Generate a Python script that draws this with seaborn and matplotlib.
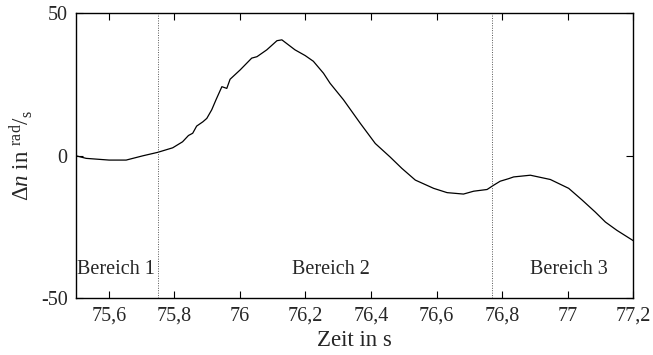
import matplotlib
matplotlib.use("Agg")
import matplotlib.pyplot as plt
import matplotlib.ticker as mticker
import seaborn as sns
import pandas as pd

# data
zeit = [75.500, 75.531, 75.601, 75.653, 75.704, 75.749, 75.795, 75.825, 75.843,
        75.856, 75.868, 75.887, 75.899, 75.914, 75.927, 75.945, 75.960, 75.970,
        76.001, 76.036, 76.052, 76.082, 76.113, 76.128, 76.168, 76.199, 76.224,
        76.255, 76.275, 76.316, 76.367, 76.413, 76.458, 76.494, 76.535, 76.591,
        76.632, 76.682, 76.713, 76.754, 76.774, 76.794, 76.820, 76.835, 76.886,
        76.947, 77.003, 77.044, 77.084, 77.115, 77.150, 77.201]
delta_n = [-0.1, -1.0, -1.6, -1.6, -0.1, 1.1, 2.7, 4.8, 7.0,
           7.8, 10.3, 11.8, 13.0, 16.0, 19.5, 24.1, 23.5, 26.7,
           30.0, 34.1, 34.6, 37.0, 40.2, 40.5, 37.0, 35.0, 33.0,
           28.8, 25.3, 19.5, 11.3, 4.2, -0.5, -4.5, -8.6, -11.5,
           -13.0, -13.5, -12.5, -11.9, -10.4, -9.0, -8.1, -7.5, -6.9,
           -8.4, -11.5, -15.6, -19.8, -23.3, -26.2, -29.9]
grenzen = [75.75, 76.77]
bereich_labels = ["Bereich 1", "Bereich 2", "Bereich 3"]
bereich_x = [75.502, 76.278, 77.003]
bereich_ha = ["left", "center", "center"]
x_ticks = [75.6, 75.8, 76.0, 76.2, 76.4, 76.6, 76.8, 77.0, 77.2]
y_ticks = [-50, 0, 50]

sns.set_style("ticks")
plt.rcParams["font.family"] = ["Liberation Serif", "DejaVu Serif"]
plt.rcParams["mathtext.fontset"] = "custom"
plt.rcParams["mathtext.rm"] = "Liberation Serif"
plt.rcParams["mathtext.it"] = "Liberation Serif:italic"
plt.rcParams["axes.unicode_minus"] = False

df = pd.DataFrame({"t": zeit, "dn": delta_n})

fig = plt.figure(figsize=(6.53, 3.55), dpi=100)
ax = fig.add_axes([0.1164, 0.1597, 0.8534, 0.8045])
sns.lineplot(data=df, x="t", y="dn", ax=ax, color="black", linewidth=0.9)

for g in grenzen:
    ax.axvline(g, color="#555555", linestyle=(0, (1, 1.5)), linewidth=0.7)

for lab, xp, ha in zip(bereich_labels, bereich_x, bereich_ha):
    ax.text(xp, -40, lab, ha=ha, va="center", fontsize=14.5)

ax.set_xlim(75.5, 77.2)
ax.set_ylim(-50, 50)
ax.set_xticks(x_ticks)
ax.set_yticks(y_ticks)
ax.xaxis.set_major_formatter(mticker.FuncFormatter(
    lambda v, p: (f"{v:.1f}".rstrip("0").rstrip(".")).replace(".", ",")))
ax.yaxis.set_major_formatter(mticker.FuncFormatter(lambda v, p: f"{v:.0f}"))
ax.tick_params(direction="in", length=5, width=0.8, top=True, right=True,
               labelsize=14.5, pad=6, color="black")
for s in ax.spines.values():
    s.set_linewidth(1.0)
    s.set_color("black")

ax.set_xlabel("Zeit in s", fontsize=16.5, labelpad=3)
ax.set_ylabel(r"$\Delta\mathit{n}$ in $^{\mathrm{rad}}/_{\mathrm{s}}$", fontsize=16.5, labelpad=4)

fig.savefig("out.png", dpi=100)
